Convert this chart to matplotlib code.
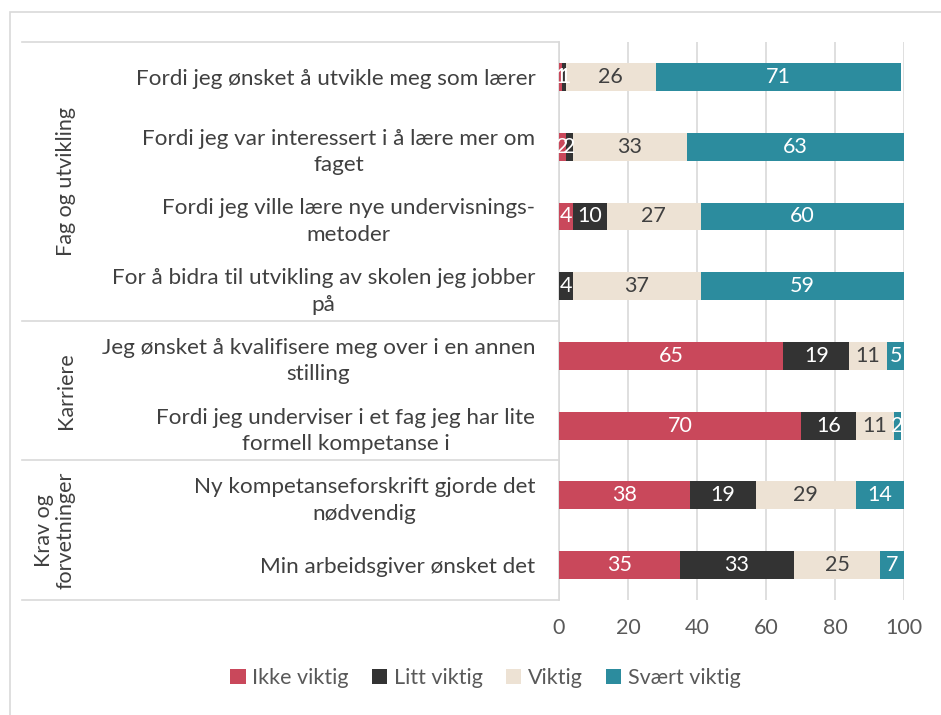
import matplotlib
matplotlib.use('Agg')
import matplotlib.pyplot as plt
import matplotlib.transforms as mtransforms
from matplotlib.patches import Rectangle
import numpy as np

# data
categories = [
    "Fordi jeg ønsket å utvikle meg som lærer",
    "Fordi jeg var interessert i å lære mer om\nfaget",
    "Fordi jeg ville lære nye undervisnings-\nmetoder",
    "For å bidra til utvikling av skolen jeg jobber\npå",
    "Jeg ønsket å kvalifisere meg over i en annen\nstilling",
    "Fordi jeg underviser i et fag jeg har lite\nformell kompetanse i",
    "Ny kompetanseforskrift gjorde det\nnødvendig",
    "Min arbeidsgiver ønsket det",
]
groups = ["Fag og utvikling", "Karriere", "Krav og\nforvetninger"]
group_sizes = [4, 2, 2]
series_names = ["Ikke viktig", "Litt viktig", "Viktig", "Svært viktig"]
ikke_viktig = [1, 2, 4, 0, 65, 70, 38, 35]
litt_viktig = [1, 2, 10, 4, 19, 16, 19, 33]
viktig = [26, 33, 27, 37, 11, 11, 29, 25]
svaert_viktig = [71, 63, 60, 59, 5, 2, 14, 7]
x_ticks = [0, 20, 40, 60, 80, 100]

colors = ['#C9485B', '#333333', '#EDE2D4', '#2C8C9E']
label_colors = ['white', 'white', '#404040', 'white']
text_color = '#595959'
grid_color = '#D9D9D9'

plt.rcParams['font.family'] = ['Lato', 'DejaVu Sans']
fs = 15.5      # ticks, data labels, legend
fs_cat = 16.2  # category labels

fig = plt.figure(figsize=(9.41, 7.15), dpi=100)
ax = fig.add_axes([0.594, 0.161, 0.367, 0.780])

# outer chart border
fig.patches.append(Rectangle((10 / 941, -0.1), 1.2, 1 - 12 / 715 + 0.1,
                             transform=fig.transFigure, fill=False,
                             edgecolor=grid_color, linewidth=1.2))

y = np.arange(len(categories))
left = np.zeros(len(categories))
for name, vals, c, lc in zip(series_names,
                             [ikke_viktig, litt_viktig, viktig, svaert_viktig],
                             colors, label_colors):
    vals = np.array(vals)
    bars = ax.barh(y, vals, left=left, height=0.4, color=c, label=name, zorder=3)
    labels = [str(v) if v > 0 else "" for v in vals]
    ax.bar_label(bars, labels=labels, label_type='center', color=lc,
                 fontsize=fs, zorder=4)
    left += vals

ax.set_xlim(0, 100)
ax.set_ylim(len(categories) - 0.5, -0.5)
ax.set_xticks(x_ticks)
ax.set_yticks(y)
ax.set_yticklabels(categories, multialignment='center', linespacing=1.4,
                   fontsize=fs_cat)
ax.tick_params(axis='y', length=0, labelcolor='#404040', pad=17)
ax.tick_params(axis='x', length=0, labelsize=fs, labelcolor=text_color, pad=13)
ax.grid(axis='x', color=grid_color, linewidth=1.2, zorder=0)
for s in ['top', 'right', 'bottom']:
    ax.spines[s].set_visible(False)
ax.spines['left'].set_color(grid_color)
ax.spines['left'].set_linewidth(1.2)

# multi-level category frame
trans = mtransforms.blended_transform_factory(ax.transAxes, ax.transData)
x_left = (23 - 559) / 345
bounds = [-0.5]
for n in group_sizes:
    bounds.append(bounds[-1] + n)
for b in bounds:
    ax.plot([x_left, 0], [b, b], transform=trans, color=grid_color,
            linewidth=1.2, clip_on=False)
group_x = [(67 - 559) / 345, (67 - 559) / 345, (55 - 559) / 345]
for g, gx, b0, b1 in zip(groups, group_x, bounds[:-1], bounds[1:]):
    ax.text(gx, (b0 + b1) / 2, g, transform=trans, rotation=90,
            ha='center', va='center', fontsize=fs, color='#404040',
            multialignment='center', linespacing=1.1)

fig.legend(loc='lower center', bbox_to_anchor=(0.516, 0.01), ncol=4,
           frameon=False, fontsize=fs, labelcolor=text_color,
           handlelength=0.7, handleheight=0.7, handletextpad=0.3,
           columnspacing=1.1)

fig.savefig('out.png', dpi=100, facecolor='white')
